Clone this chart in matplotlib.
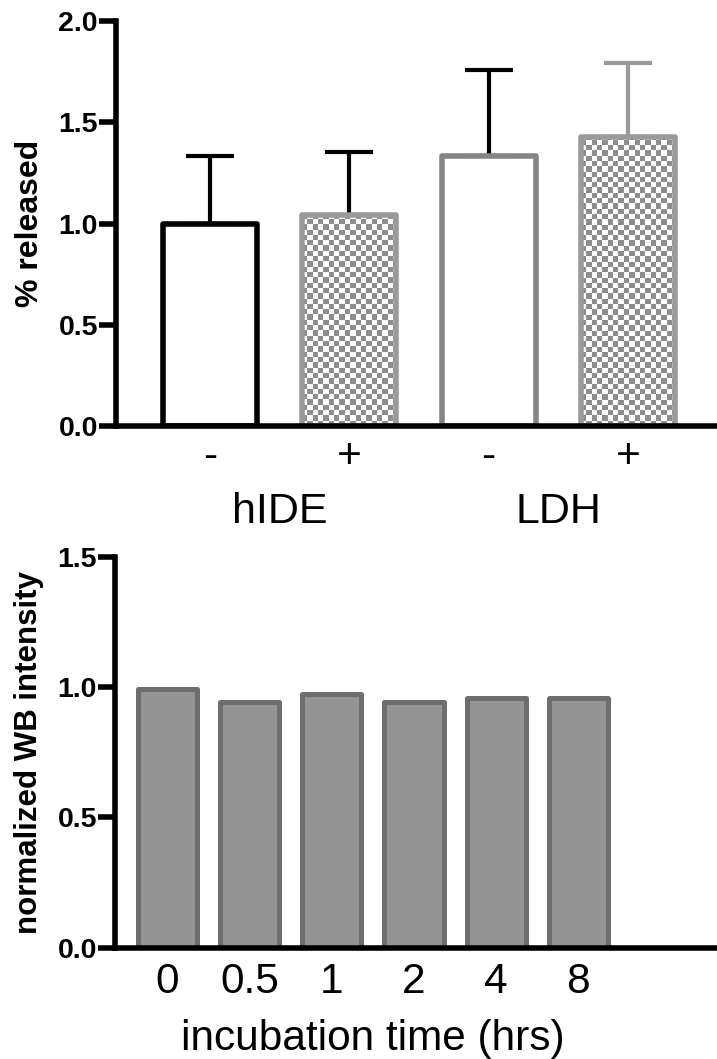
import numpy as np
import matplotlib
matplotlib.use('Agg')
import matplotlib.pyplot as plt
import matplotlib.transforms as mtransforms

plt.rcParams['font.family'] = ['Liberation Sans', 'DejaVu Sans']

# top panel data
rel_ticks = ['-', '+', '-', '+']
rel_groups = ['hIDE', 'LDH']
rel_mean = [1.0, 1.04, 1.333, 1.427]
rel_err = [0.335, 0.315, 0.425, 0.364]
rel_checker = [False, True, False, True]
rel_edge = ['black', '#9a9a9a', '#858585', '#9a9a9a']
rel_ecolor = ['black', 'black', 'black', '#9a9a9a']

# bottom panel data
wb_times = ['0', '0.5', '1', '2', '4', '8']
wb_vals = [0.995, 0.944, 0.974, 0.945, 0.959, 0.959]

W, H = 717, 1059
fig = plt.figure(figsize=(W / 100, H / 100), dpi=100)


def style_axes(ax):
    for s in ['top', 'right']:
        ax.spines[s].set_visible(False)
    for s in ['left', 'bottom']:
        ax.spines[s].set_linewidth(4)
        ax.spines[s].set_color('black')
    ax.tick_params(axis='y', length=12, width=4, pad=1, labelsize=20.5)
    ax.tick_params(axis='x', length=0, labelsize=30.5, pad=8)
    for lab in ax.get_yticklabels():
        lab.set_fontweight('bold')


# ---- top panel ----
ax1 = fig.add_axes([116 / W, 633 / H, 601 / W, 405 / H])
x1 = np.arange(len(rel_mean))
bw1 = 0.675
ax1.set_xlim(-0.674, 3.64)
ax1.set_ylim(0, 2.0)

px_x = 601 / (3.64 + 0.674)
px_y = 405 / 2.0
cell = 5.3
for i in range(len(rel_mean)):
    ax1.errorbar(x1[i], rel_mean[i], yerr=[[0], [rel_err[i]]], fmt='none',
                 ecolor=rel_ecolor[i], elinewidth=3, capsize=17, capthick=3, zorder=1)
    bar = ax1.bar(x1[i], rel_mean[i], width=bw1, color='white', edgecolor='none',
                  zorder=2)[0]
    if rel_checker[i]:
        dx = cell / px_x
        dy = cell / px_y
        nc = int(np.ceil(bw1 / dx)) + 1
        nr = int(np.ceil(rel_mean[i] / dy)) + 1
        board = (np.indices((nr, nc)).sum(axis=0) % 2).astype(float)
        x0 = x1[i] - bw1 / 2
        im = ax1.imshow(board, cmap=matplotlib.colors.ListedColormap(['white', '#8e8e8e']),
                        extent=[x0, x0 + nc * dx, 0, nr * dy], origin='lower',
                        interpolation='nearest', aspect='auto', zorder=3)
        im.set_clip_path(bar)
    edge = ax1.bar(x1[i], rel_mean[i], width=bw1, fill=False, edgecolor=rel_edge[i],
                   linewidth=4, zorder=4)[0]
    edge.set_joinstyle('round')

ax1.set_xlim(-0.674, 3.64)
ax1.set_ylim(0, 2.0)
ax1.set_yticks([0, 0.5, 1.0, 1.5, 2.0])
ax1.set_yticklabels(['0.0', '0.5', '1.0', '1.5', '2.0'])
ax1.set_xticks(x1)
ax1.set_xticklabels(rel_ticks)
style_axes(ax1)
ax1.spines['bottom'].set_zorder(5)
ax1.set_ylabel('% released', fontsize=23, fontweight='bold')
ax1.yaxis.set_label_coords(-0.118, 0.5)

trans1 = mtransforms.blended_transform_factory(ax1.transData, ax1.transAxes)
for g, name in enumerate(rel_groups):
    ax1.text(2 * g + 0.5, -0.2395, name, transform=trans1, ha='center', va='baseline',
             fontsize=31)

# ---- bottom panel ----
ax2 = fig.add_axes([115 / W, (H - 947.7) / H, 602 / W, 390.7 / H])
x2 = np.arange(len(wb_vals))
bars2 = ax2.bar(x2, wb_vals, width=0.72, color='#949494', edgecolor='#6e6e6e',
                linewidth=3.6, zorder=2)
for b in bars2:
    b.set_joinstyle('round')
ax2.set_xlim(-0.64, 6.69)
ax2.set_ylim(0, 1.5)
ax2.set_yticks([0, 0.5, 1.0, 1.5])
ax2.set_yticklabels(['0.0', '0.5', '1.0', '1.5'])
ax2.set_xticks(x2)
ax2.set_xticklabels(wb_times)
style_axes(ax2)
ax2.tick_params(axis='x', pad=10)
ax2.spines['bottom'].set_zorder(5)
ax2.set_ylabel('normalized WB intensity', fontsize=22.5, fontweight='bold')
ax2.yaxis.set_label_coords(-0.118, 0.5)

trans2 = mtransforms.blended_transform_factory(ax2.transData, ax2.transAxes)
ax2.text(2.5, (947.7 - 1050) / 390.7, 'incubation time (hrs)', transform=trans2,
         ha='center', va='baseline', fontsize=30.5)

fig.savefig('out.png', dpi=100)
